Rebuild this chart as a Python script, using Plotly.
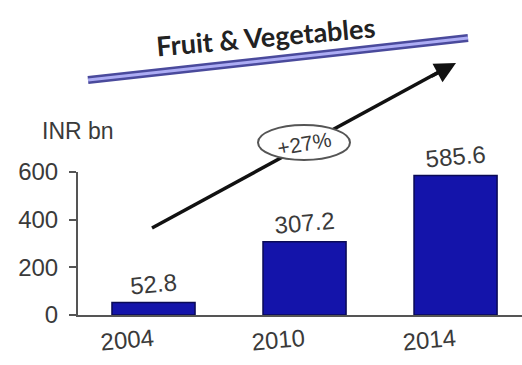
import plotly.graph_objects as go

# Market size, INR bn
years = ["2004", "2010", "2014"]
values = [52.8, 307.2, 585.6]
value_labels = ["52.8", "307.2", "585.6"]
y_ticks = [0, 200, 400, 600]
title_text = "Fruit & Vegetables"
unit_text = "INR bn"
growth_text = "+27%"

W, H = 522, 365
L, R, T, B = 78, 0, 172, 50


def px(x):
    return (x - L) / (W - L - R)


def py(y):
    return (H - B - y) / (H - T - B)


text_col = "#3a3a3a"
font_main = "Liberation Sans, Arial, sans-serif"

fig = go.Figure(
    go.Bar(
        x=years,
        y=values,
        text=value_labels,
        textposition="outside",
        textangle=-5,
        textfont=dict(size=24, color=text_col, family=font_main),
        marker=dict(color="#1414aa", line=dict(color="#0a0a55", width=1.5)),
        width=0.55,
        cliponaxis=False,
    )
)

fig.update_layout(
    width=W,
    height=H,
    margin=dict(l=L, r=R, t=T, b=B),
    paper_bgcolor="white",
    plot_bgcolor="white",
    showlegend=False,
    font=dict(family=font_main, color=text_col),
    xaxis=dict(
        type="category",
        range=[-0.5, 2.44],
        showline=True,
        linecolor="#555555",
        linewidth=2,
        ticks="",
        tickangle=-5,
        tickfont=dict(size=24, color=text_col),
        showgrid=False,
        fixedrange=True,
    ),
    yaxis=dict(
        range=[0, 600],
        tickvals=y_ticks,
        showline=True,
        linecolor="#555555",
        linewidth=2,
        ticks="outside",
        ticklen=7,
        tickwidth=2,
        tickcolor="#555555",
        ticklabelstandoff=6,
        tickfont=dict(size=24, color=text_col),
        showgrid=False,
        zeroline=False,
        fixedrange=True,
    ),
    bargap=0.45,
)

# growth arrow shaft, then the ellipse on top of it
fig.add_shape(type="line", xref="paper", yref="paper",
              x0=px(152), y0=py(228), x1=px(448), y1=py(67),
              line=dict(color="#111111", width=3.5))
fig.add_shape(type="circle", xref="paper", yref="paper",
              x0=px(258), y0=py(125), x1=px(350), y1=py(160),
              fillcolor="white", line=dict(color="#555555", width=2))
fig.add_annotation(x=px(456), y=py(63), xref="paper", yref="paper",
                   ax=-26, ay=14, text="", showarrow=True,
                   arrowhead=2, arrowsize=1.2, arrowwidth=3.5, arrowcolor="#111111")
fig.add_annotation(x=px(304), y=py(143), xref="paper", yref="paper",
                   xanchor="center", yanchor="middle",
                   text=growth_text, showarrow=False, textangle=-10,
                   font=dict(size=21, color=text_col))

# title with double underline
fig.add_shape(type="line", xref="paper", yref="paper",
              x0=px(88), y0=py(80), x1=px(468), y1=py(38),
              line=dict(color="#4a4a9c", width=8))
fig.add_shape(type="line", xref="paper", yref="paper",
              x0=px(88), y0=py(80), x1=px(468), y1=py(38),
              line=dict(color="#acacf4", width=3))
fig.add_annotation(x=px(265), y=py(36), xref="paper", yref="paper",
                   xanchor="center", yanchor="middle",
                   text="<b>" + title_text + "</b>", showarrow=False, textangle=-5,
                   font=dict(size=27, color="#222222", family="Lato, sans-serif"))

# unit label
fig.add_annotation(x=px(40), y=py(131), xref="paper", yref="paper",
                   xanchor="left", yanchor="middle",
                   text=unit_text, showarrow=False,
                   font=dict(size=23, color=text_col))

fig.write_html("out.html")
